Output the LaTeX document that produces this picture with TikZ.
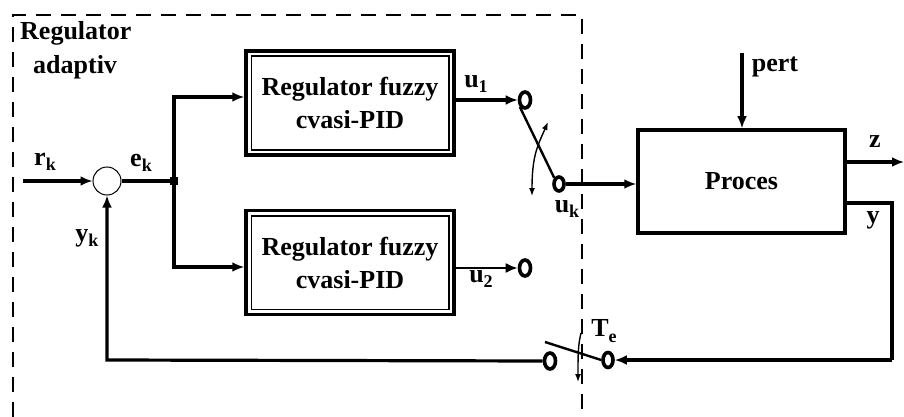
\documentclass[tikz,border=0pt]{standalone}
\usepackage{fontspec}
\setmainfont{Liberation Serif}
\usetikzlibrary{arrows.meta,shapes.geometric}
\newcommand\lsub[2]{#1\raisebox{-0.45ex}{\fontsize{18}{20}\selectfont #2}}
\tikzset{
  lbl/.style={font=\fontsize{26}{33}\selectfont\bfseries, inner sep=0pt},
  wire/.style={line width=3.2pt},
  thinwire/.style={line width=2pt},
  arr/.style={wire,-{Latex[length=12pt,width=10pt]}},
  thinarr/.style={thinwire,-{Latex[length=12pt,width=10pt]}},
  movearr/.style={line width=1.4pt},
  arm/.style={line width=2.4pt},
  block/.style={draw, line width=3.5pt, minimum width=208pt, minimum height=104pt,
    align=center, font=\fontsize{26}{33}\selectfont\bfseries, inner sep=0pt},
  proc/.style={draw, line width=3.5pt, minimum width=207pt, minimum height=103pt,
    font=\fontsize{26}{33}\selectfont\bfseries},
  contact/.style={draw, ellipse, line width=3.6pt, minimum width=11pt, minimum height=16pt, inner sep=0pt},
  sumc/.style={draw, circle, line width=1pt, minimum size=28pt, inner sep=0pt},
  bound/.style={line width=1.6pt, dash pattern=on 15pt off 10pt}
}
\begin{document}
\begin{tikzpicture}[x=1pt,y=-1pt]
\useasboundingbox (0,0) rectangle (904,417);
% dashed boundary
\draw[bound] (13,417) -- (13,15) -- (582,15) -- (582,410);
\node[lbl, anchor=west] (t1) at (20,33) {Regulator};
\node[lbl, anchor=west] (t2) at (33,67) {adaptiv};

% blocks
\node[block] (b1) at (350,103) {Regulator fuzzy\\cvasi-PID};
\draw[line width=1.5pt] ([shift={(7,7)}]b1.north west) rectangle ([shift={(-7,-7)}]b1.south east);
\node[block] (b2) at (350,262.5) {Regulator fuzzy\\cvasi-PID};
\draw[line width=1.5pt] ([shift={(7,7)}]b2.north west) rectangle ([shift={(-7,-7)}]b2.south east);
\node[proc] (p) at (741.5,181.5) {Proces};

% summing junction
\node[sumc] (s) at (107,181) {};
\coordinate (rin) at (23,181);
\draw[arr] (rin) -- (s.west);
\node[lbl] (rk) at (45,162) {\lsub{r}{k}};
\coordinate (j) at (174,181);
\draw[wire] (s.east) -- (j);
\fill (j) ++(-4,-4) rectangle ++(8,8);
\node[lbl] (ek) at (141,163) {\lsub{e}{k}};
\coordinate (jt) at (174,97);
\coordinate (jb) at (174,267);
\draw[arr] (j) -- (jt) -- (jt -| b1.west);
\draw[arr] (j) -- (jb) -- (jb -| b2.west);

% contacts
\node[contact] (c1) at (525,100) {};
\node[contact] (c2) at (525,268) {};
\node[contact, minimum width=10pt, minimum height=14pt] (c3) at (559,184) {};
\node[contact] (c4) at (550,361) {};
\node[contact, minimum width=10pt, minimum height=15pt] (c5) at (608,360) {};

% u1, u2
\coordinate (o1) at (b1.east |- c1);
\draw[arr] (o1) -- (c1.west);
\node[lbl] (u1) at (476,84) {\lsub{u}{1}};
\coordinate (o2) at (b2.east |- c2);
\draw[thinarr] (o2) -- (c2.west);
\node[lbl] (u2) at (481,279) {\lsub{u}{2}};

% switch 1
\draw[arm] (c1.south west) -- (c3.north west);
\draw[movearr, {Latex[length=8pt,width=6pt]}-{Latex[length=8pt,width=6pt]}]
  (548,122) .. controls (538,145) and (532,155) .. (532,196);
\node[lbl] (uk) at (567,209) {\lsub{u}{k}};
\coordinate (pin) at (p.west |- c3);
\draw[arr] (c3.east) -- (pin);

% pert
\coordinate (pt) at (742,53);
\draw[arr] (pt) -- (p.north -| pt);
\node[lbl] (pl) at (775,67) {pert};

% z output
\coordinate (zo) at (p.east |- 0,162);
\coordinate (ze) at (904,162);
\draw[arr] (zo) -- (ze);
\node[lbl] (zl) at (875,142) {z};

% y output and feedback
\coordinate (yo) at (p.east |- 0,203);
\coordinate (yc1) at (892,203);
\coordinate (yc2) at (892,360);
\draw[wire] (yo) -- (yc1) -- (yc2);
\draw[arr] (yc2) -- (c5.east);
\node[lbl] (yl) at (873,220) {y};

% switch Te
\coordinate (ta) at (545,342);
\draw[arm] (c5.west) -- (ta);
\draw[movearr, -{Latex[length=8pt,width=6pt]}] (581,333) .. controls (578,345) and (578,355) .. (578,382);
\node[lbl] (te) at (604,331) {\lsub{T}{e}};

% feedback to summing junction
\coordinate (fb) at (107,360);
\draw[arr] (c4.west) -- (fb) -- (s.south);
\node[lbl] (yk) at (87,238) {\lsub{y}{k}};
\end{tikzpicture}
\end{document}
